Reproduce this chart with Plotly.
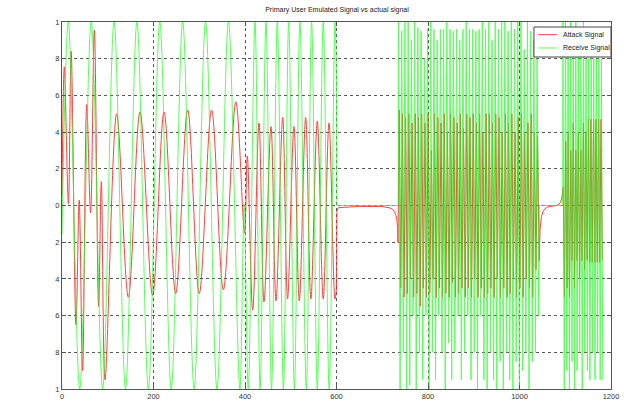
import numpy as np
import plotly.graph_objects as go

# ---------------- data ----------------
# Receive signal (green): extrema of the low-frequency part, 0..600
green_a_x = [0, 13.8, 38.8, 63.8, 88.8, 113.8, 138.8, 163.8, 188.8, 213.8, 238.8, 263.8,
             288.8, 313.8, 338.8, 363.8, 388.8, 398, 407, 421.9, 433, 445.9, 458, 470.6,
             484, 495.5, 508, 520, 534, 545.6, 558, 571, 584, 596.7, 600]
green_a_y = [-0.16, 1, -1, 1, -1, 1, -1, 1, -1, 1, -1, 1,
             -1, 1, -1, 1, -1, 0.0, -1, 1, -1, 1, -1, 1,
             -1, 1, -1, 1, -1, 1, -1, 1, -1, 1, 0.68]

# Attack signal (red): extrema of the low-frequency part, 0..600
red_a_x = [0, 5, 14, 20, 30.6, 37.5, 45, 54, 62.5, 70.7, 80, 86, 94, 119.5, 145, 170.5,
           198, 223, 248.5, 274.7, 300, 327, 352.7, 380, 399, 405, 416.8, 430.6, 441.5,
           456.8, 467.8, 482.4, 493, 507, 518.7, 532.6, 544, 558, 571, 583.6, 596.7, 600]
red_a_y = [0.05, 0.756, 0.01, 0.84, -0.65, 0.03, -0.9, 0.55, -0.04, 0.956, -0.55, 0.13,
           -0.95, 0.50, -0.50, 0.51, -0.49, 0.51, -0.48, 0.52, -0.48, 0.52, -0.46, 0.565,
           -0.15, 0.27, -0.57, 0.45, -0.525, 0.43, -0.52, 0.48, -0.51, 0.43, -0.52, 0.48,
           -0.51, 0.46, -0.51, 0.45, -0.51, -0.45]

# quiet stretches between bursts (x, y)
green_gap1_x = [600, 601, 735]
green_gap1_y = [0.68, 0.0, 0.0]
green_gap2_x = [1043.5, 1094.5]
green_gap2_y = [0.0, 0.0]

red_gap1_x = [600, 601, 604, 650, 700, 715, 722, 727, 730, 732, 733.5, 734.5]
red_gap1_y = [-0.45, -0.03, -0.012, -0.005, -0.006, -0.012, -0.02, -0.035, -0.055, -0.08, -0.12, -0.2]
red_gap2_x = [1045, 1048, 1052, 1059, 1080, 1085, 1089, 1092, 1094]
red_gap2_y = [-0.13, -0.06, -0.03, -0.01, 0.0, 0.005, 0.015, 0.035, 0.066]

# burst spans (x start, x end)
burst1_green_span = (735.5, 1042.0)
burst1_red_span = (737.0, 1043.0)
burst2_green_span = (1095.0, 1182.0)
burst2_red_span = (1095.5, 1181.0)

# burst 1 (735..1043): peak / trough of each cycle
g1_peaks = [1.0, 0.95, 1.0, 1.0, 0.9, 1.0, 0.97, 0.95, 0.8, 0.96, 1.0, 0.96, 0.9, 0.96, 0.96,
            1.0, 0.96, 0.95, 0.96, 0.9, 0.96, 1.0, 0.96, 0.96, 0.95, 0.96, 1.0, 0.96, 1.0,
            0.9, 1.0, 0.96, 1.0, 1.0, 0.95, 1.0, 0.96, 1.0, 1.0, 0.85, 1.0, 0.95, 0.9, 0.8]
g1_troughs = [-1.0, -0.8, -1.0, -0.98, -0.6, -1.0, -0.8, -0.95, -0.6, -1.0, -0.8, -0.95, -0.6,
              -0.8, -1.0, -0.75, -0.95, -0.8, -0.6, -0.95, -0.8, -0.6, -0.95, -0.8, -1.0, -0.6,
              -0.95, -1.0, -0.8, -0.95, -1.0, -0.85, -1.0, -0.8, -0.95, -1.0, -0.85, -1.0, -0.9,
              -0.8, -1.0, -0.85, -0.8, -0.6]
r1_peaks = [0.52, 0.5, 0.48, 0.5, 0.45, 0.5, 0.48, 0.5, 0.45, 0.5, 0.3, 0.5, 0.48, 0.45, 0.5,
            0.4, 0.5, 0.48, 0.45, 0.5, 0.42, 0.5, 0.48, 0.5, 0.45, 0.5, 0.4, 0.5, 0.5, 0.45,
            0.5, 0.48, 0.4, 0.5, 0.45, 0.5, 0.4, 0.48, 0.5, 0.4, 0.45, 0.5, 0.4, 0.38]
r1_troughs = [-0.45, -0.5, -0.48, -0.4, -0.5, -0.48, -0.55, -0.45, -0.5, -0.48, -0.4, -0.5,
              -0.45, -0.5, -0.48, -0.5, -0.42, -0.5, -0.48, -0.45, -0.5, -0.45, -0.5, -0.4,
              -0.5, -0.45, -0.5, -0.48, -0.45, -0.5, -0.4, -0.5, -0.45, -0.5, -0.48, -0.4,
              -0.5, -0.45, -0.5, -0.4, -0.45, -0.5, -0.35, -0.3]

# burst 2 (1094..1182)
g2_peaks = [1.0, 1.0, 0.85, 1.0, 0.85, 1.0, 0.85, 0.85, 1.0, 0.8, 0.8, 0.85, 0.8, 0.8, 0.8, 0.8]
g2_troughs = [-1.0, -0.9, -1.0, -0.85, -1.0, -0.9, -0.8, -1.0, -0.8, -0.9, -0.95, -0.8,
              -0.95, -0.8, -0.95, -0.95]
r2_peaks = [0.1, 0.35, 0.4, 0.3, 0.45, 0.3, 0.4, 0.3, 0.45, 0.4, 0.47, 0.47, 0.47, 0.47, 0.47, 0.47]
r2_troughs = [-0.5, -0.45, -0.5, -0.3, -0.45, -0.3, -0.4, -0.3, -0.35, -0.3, -0.31, -0.31,
              -0.31, -0.31, -0.31, -0.3]

x_ticks = [0, 200, 400, 600, 800, 1000, 1200]
x_tick_labels = ["0", "200", "400", "600", "800", "1000", "1200"]
y_ticks = [-1, -0.8, -0.6, -0.4, -0.2, 0, 0.2, 0.4, 0.6, 0.8, 1]
y_tick_labels = ["1", "8", "6", "4", "2", "0", "2", "4", "6", "8", "1"]

title_text = "Primary User Emulated Signal vs actual signal"
series_names = ["Attack Signal", "Receive Signal"]


# ---------------- helpers ----------------
def burst(span, peaks, troughs):
    vals = []
    for p, t in zip(peaks, troughs):
        vals += [p, t]
    xs = np.linspace(span[0], span[1], len(vals)).tolist()
    return xs, vals


g1x, g1y = burst(burst1_green_span, g1_peaks, g1_troughs)
g2x, g2y = burst(burst2_green_span, g2_peaks, g2_troughs)
r1x, r1y = burst(burst1_red_span, r1_peaks, r1_troughs)
r2x, r2y = burst(burst2_red_span, r2_peaks, r2_troughs)

green_b_x = green_gap1_x + g1x + green_gap2_x + g2x
green_b_y = green_gap1_y + g1y + green_gap2_y + g2y
red_b_x = red_gap1_x + r1x + red_gap2_x + r2x
red_b_y = red_gap1_y + r1y + red_gap2_y + r2y

RED = "#ff2020"
GREEN = "#22ff22"
RED_OP, GREEN_OP = 0.85, 0.75

fig = go.Figure()
fig.add_trace(go.Scatter(x=red_a_x, y=red_a_y, mode="lines", name=series_names[0],
                         line=dict(color=RED, width=1, shape="spline", smoothing=1),
                         legendgroup="a", opacity=RED_OP))
fig.add_trace(go.Scatter(x=red_b_x, y=red_b_y, mode="lines", name=series_names[0],
                         line=dict(color=RED, width=1), legendgroup="a", opacity=RED_OP))
fig.add_trace(go.Scatter(x=green_a_x, y=green_a_y, mode="lines", name=series_names[1],
                         line=dict(color=GREEN, width=1, shape="spline", smoothing=1),
                         legendgroup="g", opacity=GREEN_OP))
fig.add_trace(go.Scatter(x=green_b_x, y=green_b_y, mode="lines", name=series_names[1],
                         line=dict(color=GREEN, width=1), legendgroup="g", opacity=GREEN_OP))

FONT = "Liberation Sans, Arial, sans-serif"

axis_common = dict(
    showline=True, mirror="ticks", linecolor="#555555", linewidth=1,
    showgrid=True, gridcolor="rgba(0,0,0,0.65)", griddash="dot", gridwidth=1,
    ticks="inside", ticklen=4, tickcolor="#555555", zeroline=False,
    tickfont=dict(family=FONT, size=7.5, color="#333333"), automargin=False,
)

# compact MATLAB-style legend box (top-right, inside the axes), paper coordinates
legend_box = dict(x0=0.8597, x1=1.0, y0=0.9046, y1=0.9864)
legend_rows_y = [0.9654, 0.9292]
legend_line_x = (0.8670, 0.9016)
legend_text_x = 0.9089

shapes = [dict(type="rect", xref="paper", yref="paper", layer="above",
               fillcolor="white", line=dict(color="#444444", width=1), **legend_box)]
annotations = []
for name, col, op, ry in zip(series_names, [RED, GREEN], [RED_OP, GREEN_OP], legend_rows_y):
    shapes.append(dict(type="line", xref="paper", yref="paper", layer="above",
                       x0=legend_line_x[0], x1=legend_line_x[1], y0=ry, y1=ry,
                       opacity=op, line=dict(color=col, width=1)))
    annotations.append(dict(text=name, xref="paper", yref="paper", x=legend_text_x, y=ry,
                            xanchor="left", yanchor="middle", showarrow=False,
                            font=dict(family=FONT, size=7, color="#222222")))

fig.update_layout(
    width=624, height=401,
    margin=dict(l=62, r=13, t=22, b=12),
    paper_bgcolor="white", plot_bgcolor="white",
    title=dict(text=title_text, x=0.54, xanchor="center", y=0.982, yanchor="top",
               font=dict(family=FONT, size=7, color="#222222")),
    showlegend=False,
    shapes=shapes,
    annotations=annotations,
)
fig.update_xaxes(range=[0, 1200], tickvals=x_ticks, ticktext=x_tick_labels, **axis_common)
fig.update_yaxes(range=[-1, 1], tickvals=y_ticks, ticktext=y_tick_labels, **axis_common)

fig.write_html("out.html", config={"displayModeBar": False},
               post_script="document.body.style.margin='0px';document.body.style.overflow='hidden';")
